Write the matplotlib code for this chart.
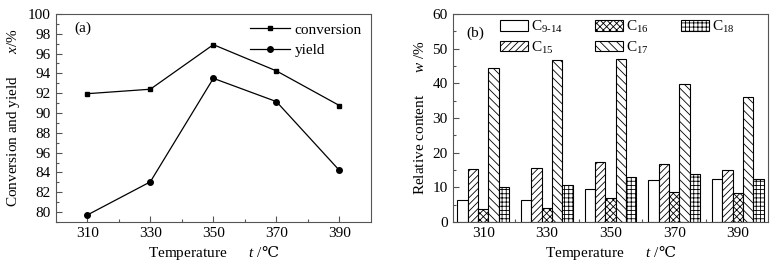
import matplotlib
matplotlib.use('Agg')
import matplotlib.pyplot as plt
import numpy as np
from matplotlib.ticker import MultipleLocator, FixedLocator

plt.rcParams['font.family'] = ['Liberation Serif', 'DejaVu Serif']
plt.rcParams['mathtext.fontset'] = 'custom'
plt.rcParams['mathtext.rm'] = 'Liberation Serif'
plt.rcParams['mathtext.it'] = 'Liberation Serif:italic'
plt.rcParams['mathtext.sf'] = 'DejaVu Serif'
plt.rcParams['font.size'] = 11
plt.rcParams['hatch.linewidth'] = 0.6
plt.rcParams['xtick.direction'] = 'in'
plt.rcParams['ytick.direction'] = 'in'

# (a) conversion and yield vs temperature
temps = [310, 330, 350, 370, 390]
conversion = [91.95, 92.4, 96.9, 94.25, 90.75]
yield_ = [79.7, 83.05, 93.5, 91.15, 84.2]
# tick labels as printed in the original (note the "96" at 86)
a_yticks = [80, 82, 84, 86, 88, 90, 92, 94, 96, 98, 100]
a_yticklabels = ['80', '82', '84', '96', '88', '90', '92', '94', '96', '98', '100']

# (b) relative content of products
groups = ['310', '330', '350', '370', '390']
c9_14 = [6.3, 6.3, 9.4, 12.2, 12.4]
c15 = [15.2, 15.5, 17.3, 16.8, 15.0]
c16 = [3.8, 4.0, 6.8, 8.6, 8.3]
c17 = [44.5, 46.6, 46.9, 39.9, 36.1]
c18 = [10.0, 10.8, 13.1, 13.8, 12.4]
series = [c9_14, c15, c16, c17, c18]
names = ['C$_{\\text{9-14}}$', 'C$_{15}$', 'C$_{16}$', 'C$_{17}$', 'C$_{18}$']
hatches = ['', '/////', 'xxxxx', '\\\\\\\\', '++++']

xlabel = 'Temperature      $\\mathit{t}$ /$\\mathsf{\u2103}$'

fig = plt.figure(figsize=(7.75, 2.63), dpi=100)
spine_col = '#555555'

# ---- panel (a)
ax1 = fig.add_axes([0.0719, 0.156, 0.4068, 0.791])
ax1.plot(temps, conversion, '-s', color='black', lw=0.9, ms=3.5, label='conversion')
ax1.plot(temps, yield_, '-o', color='black', lw=0.9, ms=4, label='yield')
ax1.set_xlim(300, 400)
ax1.set_ylim(79, 100)
ax1.set_xticks(temps)
ax1.xaxis.set_minor_locator(FixedLocator([320, 340, 360, 380]))
ax1.set_yticks(a_yticks)
ax1.set_yticklabels(a_yticklabels)
ax1.yaxis.set_minor_locator(MultipleLocator(1))
ax1.tick_params(which='major', length=4, width=0.8, color=spine_col)
ax1.tick_params(which='minor', length=2, width=0.8, color=spine_col)
ax1.set_xlabel(xlabel, labelpad=2)
ax1.set_ylabel('Conversion and yield      $\\mathit{x}$/%')
ax1.text(0.06, 0.93, '(a)', transform=ax1.transAxes, ha='left', va='center')
ax1.legend(loc='upper right', frameon=False, handlelength=2.6, handletextpad=0.3,
           borderaxespad=0.2, labelspacing=0.45, bbox_to_anchor=(1.0, 1.0))
for s in ax1.spines.values():
    s.set_color(spine_col)
    s.set_linewidth(0.8)

# ---- panel (b)
ax2 = fig.add_axes([0.584, 0.156, 0.4068, 0.791])
x = np.arange(len(groups))
w = 0.162
for i, (vals, nm, h) in enumerate(zip(series, names, hatches)):
    ax2.bar(x + (i - 2) * w, vals, width=w, facecolor='white', edgecolor='black',
            linewidth=0.8, hatch=h, label=nm)
ax2.set_xlim(-0.48, 4.47)
ax2.set_ylim(0, 60)
ax2.set_xticks(x)
ax2.set_xticklabels(groups)
ax2.xaxis.set_minor_locator(FixedLocator(x[:-1] + 0.5))
ax2.yaxis.set_major_locator(MultipleLocator(10))
ax2.yaxis.set_minor_locator(MultipleLocator(5))
ax2.tick_params(axis='x', which='major', length=0)
ax2.tick_params(axis='x', which='minor', length=2, width=0.8, color=spine_col)
ax2.tick_params(axis='y', which='major', length=4, width=0.8, color=spine_col)
ax2.tick_params(axis='y', which='minor', length=2, width=0.8, color=spine_col)
ax2.set_xlabel(xlabel, labelpad=2)
ax2.set_ylabel('Relative content      $\\mathit{w}$ /%')
ax2.text(0.045, 0.905, '(b)', transform=ax2.transAxes, ha='left', va='center')
ax2.legend(loc='upper left', ncol=3, frameon=False, bbox_to_anchor=(0.15, 0.976),
           handlelength=1.85, handleheight=0.65, handletextpad=0.2, columnspacing=2.1,
           labelspacing=0.3, borderpad=0, borderaxespad=0)
for s in ax2.spines.values():
    s.set_color(spine_col)
    s.set_linewidth(0.8)

fig.savefig('out.png', dpi=100)
